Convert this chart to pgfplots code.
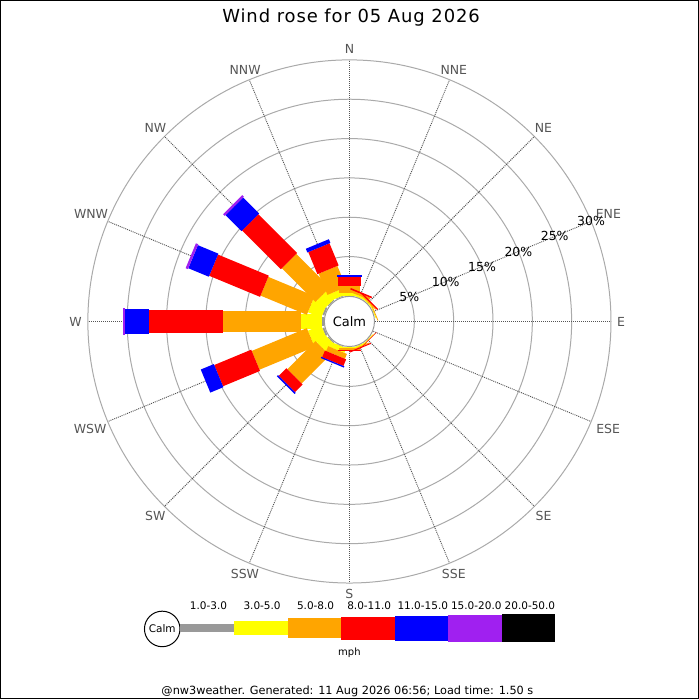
\documentclass[border=0pt]{standalone}
\usepackage{pgfplots}
\pgfplotsset{compat=1.18}
\usepackage{pgfplotstable}
\usepackage{fontspec}
\setmainfont{DejaVu Sans}
\newfontfamily\titlefont[LetterSpace=5]{DejaVu Sans}
\definecolor{wgrey}{HTML}{999999}
\definecolor{wyellow}{HTML}{FFFF00}
\definecolor{worange}{HTML}{FFA500}
\definecolor{wred}{HTML}{FF0000}
\definecolor{wblue}{HTML}{0000FF}
\definecolor{wpurple}{HTML}{A020F0}
\definecolor{ringc}{HTML}{AAAAAA}
\definecolor{radc}{HTML}{555555}
\definecolor{labc}{HTML}{555555}

% cumulative percentages per direction (a = math angle in degrees)
% c1: 1-3, c2: 3-5, c3: 5-8, c4: 8-11, c5: 11-15, c6: 15-20, c7: 20-50 mph
\pgfplotstableread{
a      c0 c1   c2   c3    c4    c5    c6    c7
90     0  0.05 0.43 1.32  2.46  2.65  2.65  2.65
67.5   0  0    0.25 0.55  0.75  0.75  0.75  0.75
45     0  0    0.15 0.30  0.45  0.45  0.45  0.45
22.5   0  0    0.10 0.20  0.20  0.20  0.20  0.20
0      0  0    0    0     0     0     0     0
-22.5  0  0    0    0     0     0     0     0
-45    0  0    0.10 0.15  0.20  0.20  0.20  0.20
-67.5  0  0    0.18 0.30  0.43  0.43  0.43  0.43
-90    0  0.02 0.18 0.37  0.50  0.50  0.50  0.50
-112.5 0  0.05 0.69 1.36  2.27  2.44  2.44  2.44
-135   0  0.15 1.57 6.62  8.00  8.20  8.20  8.20
-157.5 0  0.25 2.08 9.66  14.75 16.55 16.55 16.55
180    0  0.30 2.85 12.83 22.22 25.27 25.52 25.52
157.5  0  0.25 2.08 8.45  15.44 18.26 18.58 18.58
135    0  0.15 1.57 7.61  14.57 17.44 17.75 17.75
112.5  0  0.10 0.94 3.86  6.90  7.41  7.41  7.41
}\rosedata

% radius in px = 25.6 + 7.88 * percent
\newcommand{\band}[4]{%
  \addplot[color=#1, line width=#2,
    quiver={u={7.88*(\thisrow{#4}-\thisrow{#3})*cos(\thisrow{a})},
            v={7.88*(\thisrow{#4}-\thisrow{#3})*sin(\thisrow{a})}}]
  table[x expr={(25.6+7.88*\thisrow{#3})*cos(\thisrow{a})},
        y expr={(25.6+7.88*\thisrow{#3})*sin(\thisrow{a})}] {\rosedata};
}
\newcommand{\dirlab}[3]{%
  \path (axis cs:0,0) ++(#1:268bp) node[anchor=#2, inner sep=0pt, text=labc, font=\fontsize{12.5bp}{14bp}\selectfont] {#3};
}
\newcommand{\pctlab}[2]{%
  \path (axis cs:0,0) ++(22.5:#1bp) node[inner sep=0pt, text=black, font=\fontsize{12.5bp}{14bp}\selectfont] {#2\%};
}

\begin{document}
\begin{tikzpicture}
\begin{axis}[
  scale only axis, width=699bp, height=699bp,
  xmin=-349.5, xmax=349.5, ymin=-377.5, ymax=321.5,
  ticks=none, axis line style={line width=1bp, black},
  clip=false, axis background/.style={fill=white},
]
% rings
\draw[ringc, line width=1bp] (axis cs:0,0) circle[radius=65bp];
\draw[ringc, line width=1bp] (axis cs:0,0) circle[radius=104.4bp];
\draw[ringc, line width=1bp] (axis cs:0,0) circle[radius=143.8bp];
\draw[ringc, line width=1bp] (axis cs:0,0) circle[radius=183.2bp];
\draw[ringc, line width=1bp] (axis cs:0,0) circle[radius=222.6bp];
\draw[ringc, line width=1bp] (axis cs:0,0) circle[radius=262bp];
% radial lines
\pgfplotsinvokeforeach{0,22.5,...,337.5}{
  \draw[radc, line width=0.9bp, dash pattern=on 1bp off 1bp] (axis cs:0,0) -- +(#1:262bp);
}
% bars
\band{wgrey}{8.3bp}{c0}{c1}
\band{wyellow}{14.7bp}{c1}{c2}
\band{worange}{20.3bp}{c2}{c3}
\band{wred}{23bp}{c3}{c4}
\band{wblue}{25bp}{c4}{c5}
\band{wpurple}{27bp}{c5}{c6}
\band{black}{28.7bp}{c6}{c7}
% calm circle
\draw[wgrey, line width=1bp, fill=white] (axis cs:0,0) circle[radius=25.1bp];
\node[font=\fontsize{13bp}{15bp}\selectfont] at (axis cs:0,0) {Calm};
% direction labels
\dirlab{90}{270}{N}
\dirlab{67.5}{247.5}{NNE}
\dirlab{45}{225}{NE}
\dirlab{22.5}{202.5}{ENE}
\dirlab{0}{180}{E}
\dirlab{-22.5}{157.5}{ESE}
\dirlab{-45}{135}{SE}
\dirlab{-67.5}{112.5}{SSE}
\dirlab{-90}{90}{S}
\dirlab{-112.5}{67.5}{SSW}
\dirlab{-135}{45}{SW}
\dirlab{-157.5}{22.5}{WSW}
\dirlab{180}{0}{W}
\dirlab{157.5}{337.5}{WNW}
\dirlab{135}{315}{NW}
\dirlab{112.5}{292.5}{NNW}
% percent labels
\pctlab{65}{5}
\pctlab{104.4}{10}
\pctlab{143.8}{15}
\pctlab{183.2}{20}
\pctlab{222.6}{25}
\pctlab{262}{30}
% title
\node[anchor=base, font=\titlefont\fontsize{18bp}{20bp}\selectfont] at (axis cs:1.7,299.7) {Wind rose for 05 Aug 2026};
% legend
\draw[black, line width=1bp, fill=white] (axis cs:-187.5,-308) circle[radius=17.8bp];
\node[font=\fontsize{10.5bp}{12bp}\selectfont] at (axis cs:-187.5,-308) {Calm};
\fill[wgrey]   (axis cs:-169.3,-303.05) rectangle (axis cs:-115.7,-311.35);
\fill[wyellow] (axis cs:-115.7,-299.85) rectangle (axis cs:-62.0,-314.55);
\fill[worange] (axis cs:-62.0,-297.05) rectangle (axis cs:-8.4,-317.35);
\fill[wred]    (axis cs:-8.4,-295.7) rectangle (axis cs:45.3,-318.7);
\fill[wblue]   (axis cs:45.3,-294.7) rectangle (axis cs:99.0,-319.7);
\fill[wpurple] (axis cs:99.0,-293.7) rectangle (axis cs:152.6,-320.7);
\fill[black]   (axis cs:152.6,-292.85) rectangle (axis cs:206.3,-321.55);
\begin{scope}[every node/.style={anchor=base, font=\fontsize{10.5bp}{12bp}\selectfont}]
\node at (axis cs:-141.2,-288.7) {1.0-3.0};
\node at (axis cs:-87.5,-288.7) {3.0-5.0};
\node at (axis cs:-33.9,-288.7) {5.0-8.0};
\node at (axis cs:19.8,-288.7) {8.0-11.0};
\node at (axis cs:73.5,-288.7) {11.0-15.0};
\node at (axis cs:127.1,-288.7) {15.0-20.0};
\node at (axis cs:180.8,-288.7) {20.0-50.0};
\end{scope}
\node[anchor=base, font=\fontsize{10bp}{12bp}\selectfont] at (axis cs:0,-334.7) {mph};
\node[anchor=base, font=\fontsize{11.3bp}{13bp}\selectfont] at (axis cs:-2,-373.5) {@nw3weather. Generated: 11 Aug 2026 06:56; Load time: 1.50 s};
\end{axis}
\end{tikzpicture}
\end{document}
